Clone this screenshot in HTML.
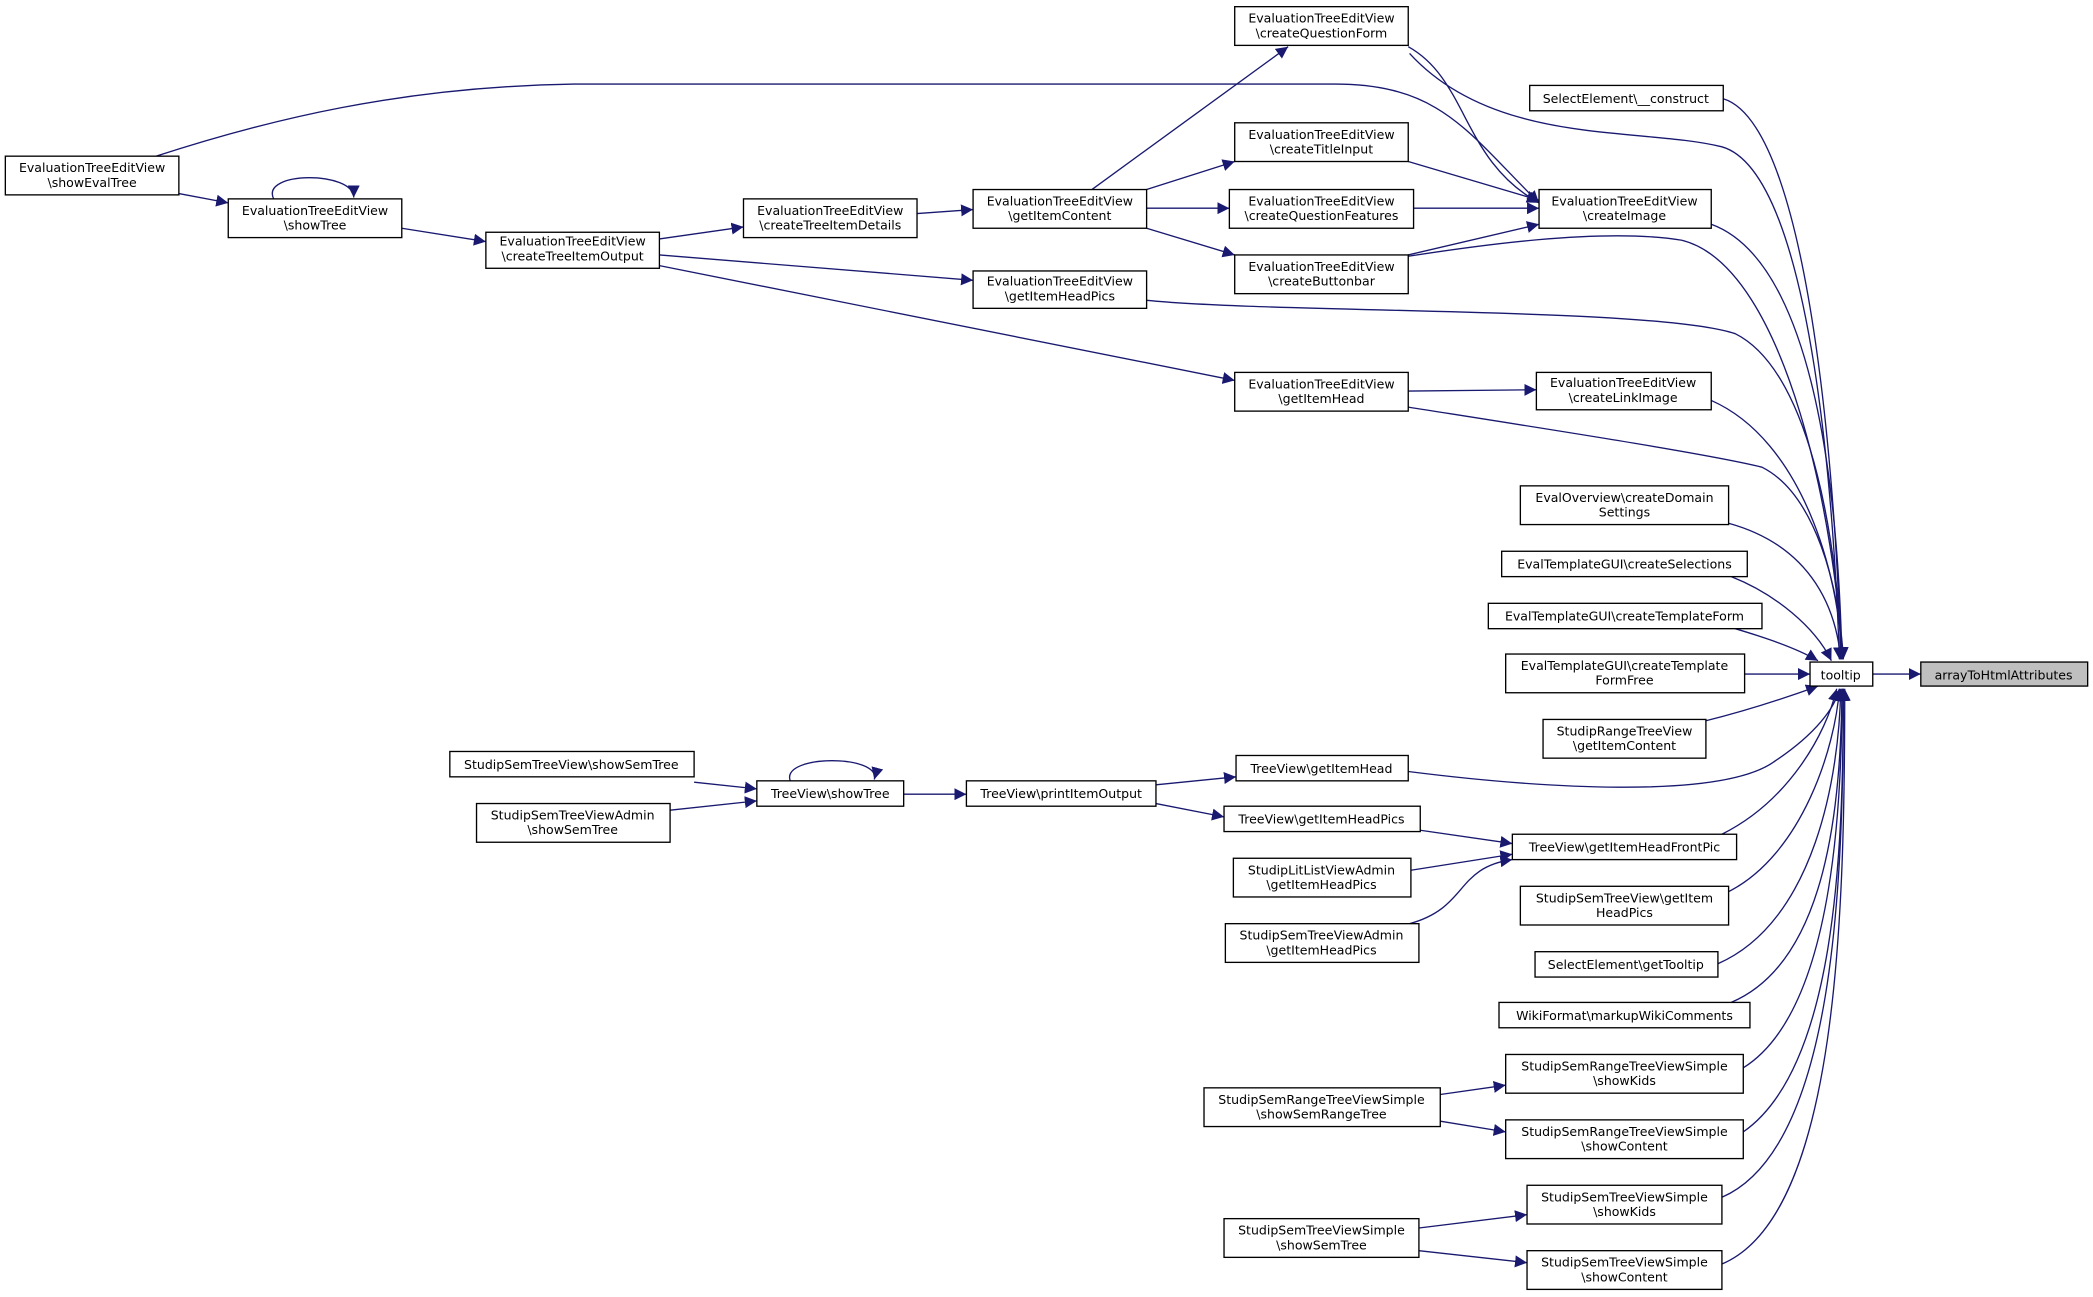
<!DOCTYPE html>
<html><head><meta charset="utf-8"><style>html,body{margin:0;padding:0;background:#fff}svg{display:block}</style></head><body>
<svg xmlns="http://www.w3.org/2000/svg" width="2093" height="1297" viewBox="0 0 1568 971.7" preserveAspectRatio="none">
<defs><marker id="a" viewBox="0 0 10 10" refX="10" refY="5" markerWidth="9" markerHeight="9" markerUnits="userSpaceOnUse" orient="auto"><path d="M0,0L10,5L0,10z" fill="#191970"/></marker></defs>
<g fill="none" stroke="#191970" stroke-width="1" marker-end="url(#a)">
<path d="M1403,505H1439"/>
<path d="M1056,40C1120,110 1230,95 1290,110C1360,130 1375,400 1378,494"/>
<path d="M1291,74C1360,95 1377,400 1379,494"/>
<path d="M1282,168C1370,200 1378,420 1380,494"/>
<path d="M1055,192C1100,185 1200,170 1260,180C1340,200 1376,400 1380,494"/>
<path d="M859,225C960,235 1240,230 1300,250C1360,280 1377,420 1380,494"/>
<path d="M1282,300C1350,330 1378,430 1380,494"/>
<path d="M1055,305C1150,320 1280,340 1320,350C1360,370 1378,440 1381,494"/>
<path d="M1295,392C1360,410 1376,460 1379,494"/>
<path d="M1297,432C1330,445 1360,470 1372,495"/>
<path d="M1300,471C1320,477 1345,485 1362,495"/>
<path d="M1307,505H1356"/>
<path d="M1278,540C1310,532 1340,522 1362,514"/>
<path d="M1055,578C1150,590 1290,600 1330,570C1360,550 1375,530 1378,516"/>
<path d="M1290,625C1340,600 1368,550 1376,516"/>
<path d="M1295,668C1350,640 1375,560 1378,516"/>
<path d="M1287,722C1360,690 1378,580 1379,516"/>
<path d="M1297,751C1370,720 1379,600 1380,516"/>
<path d="M1306,800C1370,760 1380,620 1380,516"/>
<path d="M1306,848C1375,800 1381,640 1381,516"/>
<path d="M1290,897C1375,860 1381,660 1381,516"/>
<path d="M1290,947C1378,910 1382,680 1382,516"/>
<path d="M1055,35C1100,60 1095,120 1153,152"/>
<path d="M1055,121L1153,150"/>
<path d="M1059,156H1153"/>
<path d="M1055,191L1153,168"/>
<path d="M117,117C200,90 300,65 430,63L1000,63C1080,63 1100,100 1153,152"/>
<path d="M818,142L965,35"/>
<path d="M859,142L925,121"/>
<path d="M859,156H921"/>
<path d="M859,171L925,191"/>
<path d="M687,160L729,157"/>
<path d="M494,179L557,170"/>
<path d="M494,191L729,210"/>
<path d="M494,199L925,285"/>
<path d="M301,171L364,181"/>
<path d="M134,145L171,152"/>
<path d="M205,149C195,128 265,128 265,148"/>
<path d="M1055,293L1151,292"/>
<path d="M520,586L567,591"/>
<path d="M502,607L567,600"/>
<path d="M677,595H724"/>
<path d="M866,588L926,582"/>
<path d="M866,602L917,612"/>
<path d="M592,585C585,565 660,565 655,584"/>
<path d="M1064,622L1133,632"/>
<path d="M1057,652L1133,640"/>
<path d="M1056,692C1100,680 1090,650 1133,644"/>
<path d="M1079,820L1128,813"/>
<path d="M1079,840L1128,848"/>
<path d="M1063,920L1144,910"/>
<path d="M1063,937L1144,946"/>
</g>
<g stroke="#000" stroke-width="1" fill="#fff">
<rect x="1439" y="496" width="125" height="18" fill="#bfbfbf"/>
<rect x="1356" y="496" width="47" height="18"/>
<rect x="1146" y="64" width="145" height="19"/>
<rect x="1153" y="142" width="129" height="29"/>
<rect x="925" y="5" width="130" height="29"/>
<rect x="925" y="92" width="130" height="29"/>
<rect x="921" y="142" width="138" height="29"/>
<rect x="925" y="191" width="130" height="29"/>
<rect x="729" y="142" width="130" height="29"/>
<rect x="557" y="149" width="130" height="29"/>
<rect x="364" y="174" width="130" height="27"/>
<rect x="171" y="149" width="130" height="29"/>
<rect x="4" y="117" width="130" height="29"/>
<rect x="729" y="203" width="130" height="28"/>
<rect x="925" y="279" width="130" height="29"/>
<rect x="1151" y="279" width="131" height="28"/>
<rect x="1139" y="364" width="156" height="29"/>
<rect x="1125" y="413" width="184" height="19"/>
<rect x="1115" y="452" width="205" height="19"/>
<rect x="1128" y="490" width="179" height="29"/>
<rect x="1156" y="539" width="122" height="29"/>
<rect x="926" y="566" width="129" height="19"/>
<rect x="724" y="585" width="142" height="19"/>
<rect x="567" y="585" width="110" height="19"/>
<rect x="337" y="563" width="183" height="19"/>
<rect x="357" y="602" width="145" height="29"/>
<rect x="917" y="604" width="147" height="19"/>
<rect x="1133" y="625" width="168" height="19"/>
<rect x="924" y="643" width="133" height="29"/>
<rect x="918" y="692" width="145" height="29"/>
<rect x="1139" y="664" width="156" height="29"/>
<rect x="1150" y="713" width="137" height="19"/>
<rect x="1123" y="751" width="188" height="19"/>
<rect x="1128" y="790" width="178" height="29"/>
<rect x="902" y="815" width="177" height="29"/>
<rect x="1128" y="839" width="178" height="29"/>
<rect x="1144" y="888" width="146" height="29"/>
<rect x="917" y="913" width="146" height="29"/>
<rect x="1144" y="937" width="146" height="29"/>
</g>
<g font-family="DejaVu Sans, Liberation Sans, sans-serif" font-size="9.4" fill="#000" text-anchor="middle">
<text x="1501" y="509">arrayToHtmlAttributes</text>
<text x="1379" y="509">tooltip</text>
<text x="1218" y="77">SelectElement\__construct</text>
<text x="1217" y="154">EvaluationTreeEditView</text><text x="1217" y="165">\createImage</text>
<text x="990" y="17">EvaluationTreeEditView</text><text x="990" y="28">\createQuestionForm</text>
<text x="990" y="104">EvaluationTreeEditView</text><text x="990" y="115">\createTitleInput</text>
<text x="990" y="154">EvaluationTreeEditView</text><text x="990" y="165">\createQuestionFeatures</text>
<text x="990" y="203">EvaluationTreeEditView</text><text x="990" y="214">\createButtonbar</text>
<text x="794" y="154">EvaluationTreeEditView</text><text x="794" y="165">\getItemContent</text>
<text x="622" y="161">EvaluationTreeEditView</text><text x="622" y="172">\createTreeItemDetails</text>
<text x="429" y="184">EvaluationTreeEditView</text><text x="429" y="195">\createTreeItemOutput</text>
<text x="236" y="161">EvaluationTreeEditView</text><text x="236" y="172">\showTree</text>
<text x="69" y="129">EvaluationTreeEditView</text><text x="69" y="140">\showEvalTree</text>
<text x="794" y="214">EvaluationTreeEditView</text><text x="794" y="225">\getItemHeadPics</text>
<text x="990" y="291">EvaluationTreeEditView</text><text x="990" y="302">\getItemHead</text>
<text x="1216" y="290">EvaluationTreeEditView</text><text x="1216" y="301">\createLinkImage</text>
<text x="1217" y="376">EvalOverview\createDomain</text><text x="1217" y="387">Settings</text>
<text x="1217" y="426">EvalTemplateGUI\createSelections</text>
<text x="1217" y="465">EvalTemplateGUI\createTemplateForm</text>
<text x="1217" y="502">EvalTemplateGUI\createTemplate</text><text x="1217" y="513">FormFree</text>
<text x="1217" y="551">StudipRangeTreeView</text><text x="1217" y="562">\getItemContent</text>
<text x="990" y="579">TreeView\getItemHead</text>
<text x="795" y="598">TreeView\printItemOutput</text>
<text x="622" y="598">TreeView\showTree</text>
<text x="428" y="576">StudipSemTreeView\showSemTree</text>
<text x="429" y="614">StudipSemTreeViewAdmin</text><text x="429" y="625">\showSemTree</text>
<text x="990" y="617">TreeView\getItemHeadPics</text>
<text x="1217" y="638">TreeView\getItemHeadFrontPic</text>
<text x="990" y="655">StudipLitListViewAdmin</text><text x="990" y="666">\getItemHeadPics</text>
<text x="990" y="704">StudipSemTreeViewAdmin</text><text x="990" y="715">\getItemHeadPics</text>
<text x="1217" y="676">StudipSemTreeView\getItem</text><text x="1217" y="687">HeadPics</text>
<text x="1218" y="726">SelectElement\getTooltip</text>
<text x="1217" y="764">WikiFormat\markupWikiComments</text>
<text x="1217" y="802">StudipSemRangeTreeViewSimple</text><text x="1217" y="813">\showKids</text>
<text x="990" y="827">StudipSemRangeTreeViewSimple</text><text x="990" y="838">\showSemRangeTree</text>
<text x="1217" y="851">StudipSemRangeTreeViewSimple</text><text x="1217" y="862">\showContent</text>
<text x="1217" y="900">StudipSemTreeViewSimple</text><text x="1217" y="911">\showKids</text>
<text x="990" y="925">StudipSemTreeViewSimple</text><text x="990" y="936">\showSemTree</text>
<text x="1217" y="949">StudipSemTreeViewSimple</text><text x="1217" y="960">\showContent</text>
</g>
</svg>
</body></html>
